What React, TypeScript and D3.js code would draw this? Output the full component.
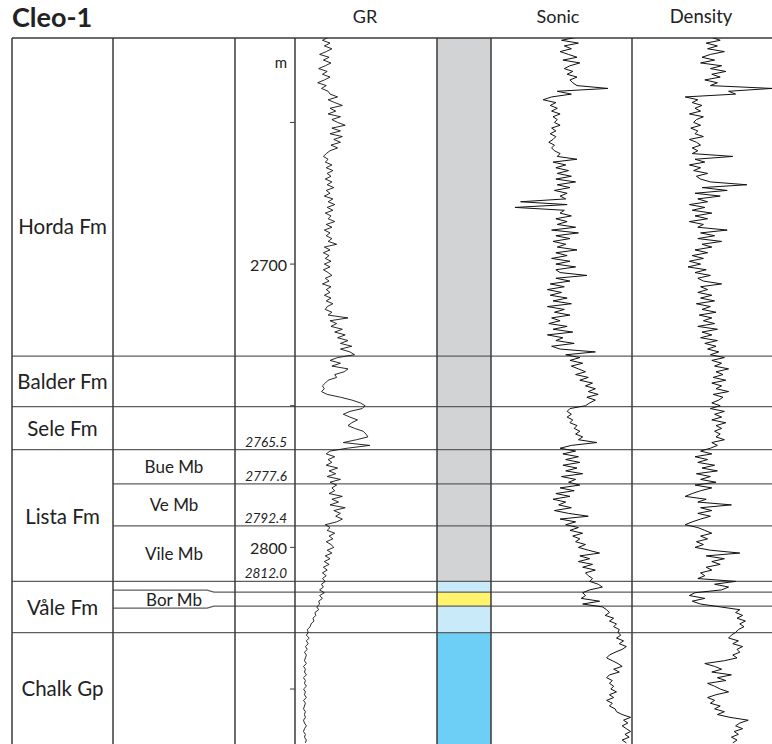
import React from 'react'
import * as d3 from 'd3'

// depth window shown (m MD) and log sampling
const DEPTH_TOP = 2620.2
const DEPTH_BASE = 2869.4
const SAMPLE_START = 2620
const SAMPLE_STEP = 1

const FORMATIONS = [
  { name: 'Horda Fm', top: 2620.2, base: 2732.5, labelAt: 2686.5 },
  { name: 'Balder Fm', top: 2732.5, base: 2750.3 },
  { name: 'Sele Fm', top: 2750.3, base: 2765.5 },
  { name: 'Lista Fm', top: 2765.5, base: 2812.0 },
  { name: 'Våle Fm', top: 2812.0, base: 2830.1 },
  { name: 'Chalk Gp', top: 2830.1, base: 2869.4 },
]

const MEMBERS = [
  { name: 'Bue Mb', top: 2765.5, base: 2777.6 },
  { name: 'Ve Mb', top: 2777.6, base: 2792.4 },
  { name: 'Vile Mb', top: 2792.4, base: 2812.0 },
]
const BOR_MB = { name: 'Bor Mb', top: 2815.8, base: 2820.7 }

const TOP_LABELS = [2765.5, 2777.6, 2792.4, 2812.0]
const DEPTH_TICKS = [2650, 2700, 2750, 2800, 2850]
const LABELED_TICKS = [2700, 2800]

const LITHOLOGY = [
  { top: 2620.2, base: 2812.0, color: '#d1d3d4' },
  { top: 2812.0, base: 2815.8, color: '#c9eaf9' },
  { top: 2815.8, base: 2820.7, color: '#fff46c' },
  { top: 2820.7, base: 2830.1, color: '#c9eaf9' },
  { top: 2830.1, base: 2869.4, color: '#6dcff6' },
]

// GR (API), 1 m samples from 2620 m
const GR = [
  35, 29, 37, 31, 39, 33, 26, 36, 30, 38,
  32, 25, 34, 29, 37, 31, 24, 33, 28, 35,
  37, 45, 35, 42, 50, 37, 43, 35, 48, 39,
  45, 53, 39, 48, 37, 50, 41, 48, 38, 45,
  37, 33, 30, 35, 32, 39, 33, 40, 34, 38,
  32, 39, 34, 41, 33, 37, 31, 40, 35, 42,
  34, 40, 32, 38, 35, 42, 33, 39, 31, 37,
  33, 39, 35, 44, 31, 37, 30, 36, 32, 38,
  31, 37, 30, 35, 39, 32, 36, 29, 38, 33,
  37, 31, 38, 33, 40, 34, 32, 39, 35, 56,
  37, 44, 38, 50, 42, 53, 45, 56, 48, 60,
  48, 58, 63, 45, 37, 48, 39, 56, 52, 42,
  44, 35, 32, 29, 31, 28, 34, 48, 60, 69,
  74, 71, 58, 51, 58, 66, 60, 56, 63, 72,
  75, 77, 65, 51, 79, 55, 37, 33, 42, 35,
  39, 33, 45, 36, 43, 34, 48, 37, 44, 39,
  42, 36, 50, 39, 46, 37, 53, 41, 48, 43,
  50, 44, 32, 37, 34, 42, 36, 40, 33, 38,
  41, 34, 39, 32, 37, 31, 36, 30, 34, 29,
  33, 29, 32, 28, 30, 26, 31, 26, 29, 25,
  26, 23, 25, 21, 22, 19, 20, 17, 16, 13,
  14, 12, 15, 12, 14, 11, 13, 10, 12, 11,
  10, 12, 9, 11, 10, 12, 9, 11, 10, 12,
  9, 11, 10, 12, 9, 11, 10, 9, 11, 10,
  11, 9, 10, 12, 10, 9, 11, 10, 12, 11,
]

// Sonic DT (us/ft)
const SONIC = [
  80, 90, 78, 88, 83, 91, 85, 79, 89, 77,
  84, 88, 82, 86, 79, 84, 82, 79, 57, 93,
  83, 97, 103, 94, 98, 93, 97, 91, 96, 93,
  95, 91, 97, 94, 98, 94, 96, 99, 95, 97,
  95, 91, 93, 79, 96, 87, 94, 85, 93, 83,
  94, 80, 93, 84, 95, 86, 91, 87, 119, 86,
  123, 88, 91, 83, 94, 86, 93, 80, 97, 78,
  94, 84, 96, 87, 93, 79, 94, 86, 97, 84,
  94, 80, 94, 91, 72, 94, 84, 98, 88, 100,
  90, 98, 86, 96, 83, 100, 88, 95, 84, 97,
  91, 99, 86, 96, 82, 100, 89, 94, 81, 97,
  91, 66, 87, 77, 84, 75, 83, 78, 73, 80,
  71, 77, 68, 73, 66, 71, 64, 72, 66, 70,
  73, 84, 86, 83, 86, 82, 84, 79, 81, 77,
  80, 75, 78, 65, 83, 91, 80, 89, 78, 87,
  77, 89, 79, 87, 75, 90, 80, 85, 77, 91,
  81, 94, 84, 96, 87, 92, 83, 95, 85, 71,
  91, 80, 87, 78, 84, 75, 82, 77, 80, 73,
  78, 71, 63, 77, 70, 78, 68, 75, 66, 73,
  71, 68, 70, 64, 61, 70, 75, 73, 76, 63,
  75, 61, 58, 56, 59, 53, 56, 51, 53, 49,
  50, 48, 51, 46, 49, 44, 47, 52, 56, 58,
  54, 50, 47, 53, 49, 56, 58, 54, 56, 53,
  55, 51, 56, 53, 58, 54, 56, 52, 51, 47,
  41, 46, 43, 47, 44, 41, 45, 42, 47, 44,
]

// Bulk density (g/cc)
const DENSITY = [
  2.52, 2.58, 2.48, 2.56, 2.49, 2.61, 2.51, 2.45, 2.54, 2.44,
  2.59, 2.51, 2.62, 2.52, 2.58, 2.47, 2.56, 2.51, 2.95, 2.64,
  2.69, 2.33, 2.42, 2.38, 2.45, 2.4, 2.44, 2.36, 2.46, 2.41,
  2.39, 2.44, 2.37, 2.42, 2.4, 2.46, 2.36, 2.41, 2.44, 2.38,
  2.42, 2.38, 2.67, 2.4, 2.47, 2.36, 2.44, 2.39, 2.49, 2.41,
  2.44, 2.51, 2.77, 2.45, 2.63, 2.4, 2.58, 2.42, 2.49, 2.36,
  2.47, 2.38, 2.52, 2.4, 2.49, 2.36, 2.46, 2.42, 2.63, 2.44,
  2.54, 2.42, 2.59, 2.45, 2.52, 2.4, 2.49, 2.38, 2.46, 2.36,
  2.44, 2.35, 2.48, 2.4, 2.51, 2.42, 2.46, 2.59, 2.44, 2.49,
  2.42, 2.52, 2.44, 2.54, 2.41, 2.51, 2.45, 2.55, 2.43, 2.52,
  2.46, 2.54, 2.42, 2.56, 2.45, 2.52, 2.44, 2.56, 2.47, 2.55,
  2.49, 2.57, 2.51, 2.61, 2.52, 2.59, 2.54, 2.64, 2.55, 2.6,
  2.53, 2.62, 2.52, 2.59, 2.55, 2.64, 2.53, 2.6, 2.57, 2.52,
  2.58, 2.51, 2.61, 2.54, 2.59, 2.52, 2.62, 2.55, 2.59, 2.54,
  2.58, 2.55, 2.61, 2.52, 2.56, 2.51, 2.44, 2.52, 2.4, 2.49,
  2.42, 2.54, 2.45, 2.56, 2.41, 2.51, 2.44, 2.55, 2.4, 2.52,
  2.44, 2.38, 2.33, 2.48, 2.42, 2.66, 2.44, 2.52, 2.42, 2.51,
  2.44, 2.38, 2.33, 2.42, 2.47, 2.52, 2.44, 2.49, 2.41, 2.46,
  2.4, 2.51, 2.72, 2.48, 2.61, 2.52, 2.58, 2.48, 2.52, 2.44,
  2.47, 2.42, 2.69, 2.54, 2.64, 2.59, 2.4, 2.36, 2.47, 2.38,
  2.44, 2.58, 2.72, 2.69, 2.74, 2.7, 2.76, 2.72, 2.75, 2.71,
  2.69, 2.66, 2.64, 2.71, 2.67, 2.74, 2.7, 2.72, 2.67, 2.7,
  2.61, 2.47, 2.54, 2.59, 2.52, 2.66, 2.56, 2.62, 2.49, 2.54,
  2.58, 2.64, 2.55, 2.49, 2.54, 2.51, 2.58, 2.54, 2.61, 2.56,
  2.65, 2.78, 2.72, 2.69, 2.74, 2.68, 2.71, 2.66, 2.7, 2.67,
]

const W = 772
const H = 744
const FONT = 'Lato, "Open Sans", sans-serif'
const TOP = 38
const COL = { left: 12, member: 113, depth: 235, gr: 295, lith: 437, sonic: 491, dens: 632, right: 772 }

export default function App() {
  const y = d3.scaleLinear().domain([DEPTH_TOP, DEPTH_BASE]).range([TOP, H])
  const xGR = d3.scaleLinear().domain([0, 150]).range([COL.gr, COL.lith])
  const xDT = d3.scaleLinear().domain([140, 40]).range([COL.sonic, COL.dens])
  const xRho = d3.scaleLinear().domain([1.95, 2.95]).range([COL.dens, COL.right])

  const curve = (x: d3.ScaleLinear<number, number>) =>
    d3
      .line<number>()
      .x((v) => x(v))
      .y((_, i) => y(SAMPLE_START + i * SAMPLE_STEP))

  const tracks = [
    { id: 'gr', x0: COL.gr, x1: COL.lith, d: curve(xGR)(GR), w: 0.9 },
    { id: 'dt', x0: COL.sonic, x1: COL.dens, d: curve(xDT)(SONIC), w: 1 },
    { id: 'rho', x0: COL.dens, x1: COL.right, d: curve(xRho)(DENSITY), w: 1 },
  ]

  const lineColor = '#5e5e5e'
  const frameColor = '#3a3a3a'
  const mid = (a: number, b: number) => (y(a) + y(b)) / 2

  const borTop = y(BOR_MB.top)
  const borBase = y(BOR_MB.base)

  return (
    <svg
      width={W}
      height={H}
      style={{ position: 'absolute', left: 0, top: 0, background: '#fff' }}
      fontFamily={FONT}
    >
      <defs>
        {tracks.map((t) => (
          <clipPath id={`clip-${t.id}`} key={t.id}>
            <rect x={t.x0} y={TOP} width={t.x1 - t.x0} height={H - TOP} />
          </clipPath>
        ))}
      </defs>

      {/* lithology column */}
      {LITHOLOGY.map((l, i) => (
        <rect
          key={i}
          x={COL.lith}
          y={y(l.top)}
          width={COL.sonic - COL.lith}
          height={y(l.base) - y(l.top)}
          fill={l.color}
        />
      ))}

      {/* titles */}
      <text x={12} y={27} fontSize={27} fontWeight={700} fill="#222">
        Cleo-1
      </text>
      <text x={365} y={23} fontSize={18} textAnchor="middle" fill="#222">
        GR
      </text>
      <text x={558} y={23} fontSize={18} textAnchor="middle" fill="#222">
        Sonic
      </text>
      <text x={701} y={23} fontSize={18.5} textAnchor="middle" fill="#222">
        Density
      </text>

      {/* formation boundaries */}
      {FORMATIONS.slice(1).map((f) => (
        <line
          key={f.name}
          x1={COL.left}
          x2={COL.right}
          y1={y(f.top)}
          y2={y(f.top)}
          stroke={lineColor}
          strokeWidth={1.3}
        />
      ))}
      {MEMBERS.slice(1).map((m) => (
        <line
          key={m.name}
          x1={COL.member}
          x2={COL.right}
          y1={y(m.top)}
          y2={y(m.top)}
          stroke={lineColor}
          strokeWidth={1.3}
        />
      ))}
      <path
        d={`M${COL.member},${borTop - 2}H207L214,${borTop}H${COL.right}`}
        fill="none"
        stroke={lineColor}
        strokeWidth={1.3}
      />
      <path
        d={`M${COL.member},${borBase + 2}H207L214,${borBase}H${COL.right}`}
        fill="none"
        stroke={lineColor}
        strokeWidth={1.3}
      />

      {/* frame */}
      <line x1={COL.left} x2={COL.right} y1={TOP} y2={TOP} stroke={frameColor} strokeWidth={1.5} />
      {[COL.left, COL.member, COL.depth, COL.gr, COL.lith, COL.sonic, COL.dens].map((x) => (
        <line key={x} x1={x} x2={x} y1={TOP} y2={H} stroke={frameColor} strokeWidth={1.5} />
      ))}

      {/* formation & member labels */}
      {FORMATIONS.map((f) => (
        <text
          key={f.name}
          x={(COL.left + COL.member) / 2}
          y={f.labelAt !== undefined ? y(f.labelAt) : mid(f.top, f.base)}
          fontSize={20.5}
          textAnchor="middle"
          dominantBaseline="central"
          fill="#222"
        >
          {f.name}
        </text>
      ))}
      {[...MEMBERS, BOR_MB].map((m) => (
        <text
          key={m.name}
          x={(COL.member + COL.depth) / 2}
          y={mid(m.top, m.base)}
          fontSize={17}
          textAnchor="middle"
          dominantBaseline="central"
          fill="#222"
        >
          {m.name}
        </text>
      ))}

      {/* depth column */}
      <text x={287} y={68} fontSize={15} textAnchor="end" fill="#222">
        m
      </text>
      {DEPTH_TICKS.map((d) => (
        <line key={d} x1={COL.gr - 5} x2={COL.gr} y1={y(d)} y2={y(d)} stroke={frameColor} strokeWidth={1} />
      ))}
      {LABELED_TICKS.map((d) => (
        <text key={d} x={COL.gr - 8} y={y(d)} fontSize={16} textAnchor="end" dominantBaseline="central" fill="#222">
          {d}
        </text>
      ))}
      {TOP_LABELS.map((d) => (
        <text key={d} x={287} y={y(d) - 3} fontSize={13.5} fontStyle="italic" textAnchor="end" fill="#222">
          {d.toFixed(1)}
        </text>
      ))}

      {/* log curves */}
      {tracks.map((t) => (
        <path
          key={t.id}
          d={t.d ?? ''}
          fill="none"
          stroke="#111"
          strokeWidth={t.w}
          strokeLinejoin="round"
          clipPath={`url(#clip-${t.id})`}
        />
      ))}
    </svg>
  )
}
